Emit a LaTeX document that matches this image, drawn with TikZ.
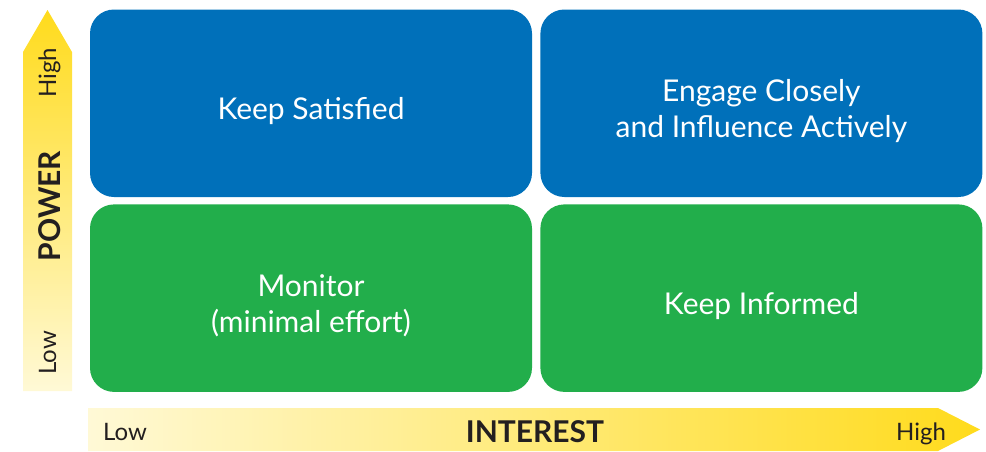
\documentclass[tikz,border=0pt]{standalone}
\usepackage{fontspec}
\setmainfont{Lato}
\usetikzlibrary{positioning}
\definecolor{quadblue}{HTML}{0070BA}
\definecolor{quadgreen}{HTML}{22AE4B}
\definecolor{axisyellow}{HTML}{FFDB1C}
\definecolor{axispale}{HTML}{FFF9D6}
\definecolor{axisink}{HTML}{231F20}
\newcommand{\quadstrut}{\rule{0pt}{38pt}}

\begin{document}
\begin{tikzpicture}[%
x=1pt,
y=-1pt,
quad/.style={rectangle, rounded corners=24pt, minimum width=442pt, minimum height=187.5pt,
  inner sep=0pt, text=white, align=center, font=\fontsize{30}{36}\selectfont},
axislabel/.style={text=axisink, anchor=base, font=\fontsize{24}{24}\selectfont},
axistitle/.style={text=axisink, anchor=base, font=\bfseries\fontsize{30}{30}\selectfont}
]
\useasboundingbox (0,0) rectangle (986,451);

% axes
\shade[bottom color=axispale, top color=axisyellow] (23,391) -- (23,52) -- (47.5,10) -- (72,52) -- (72,391) -- cycle;
\shade[left color=axispale, right color=axisyellow] (88,408) -- (938,408) -- (980,429.5) -- (938,451) -- (88,451) -- cycle;

% quadrants
\node[quad, fill=quadblue] (satisfied) at (311,103.25) {\quadstrut Keep Satisfied};
\node[quad, fill=quadblue, right=8pt of satisfied] (engage) {\quadstrut Engage Closely\\and Influence Actively};
\node[quad, fill=quadgreen, below=7pt of satisfied] (monitor) {\quadstrut Monitor\\(minimal effort)};
\node[quad, fill=quadgreen, right=8pt of monitor] (informed) {\quadstrut Keep Informed};

% axis labels
\node[axislabel, rotate=90] (powerhigh) at (56,73) {High};
\node[axistitle, rotate=90] (power) at (60,206) {POWER};
\node[axislabel, rotate=90] (powerlow) at (56,353) {Low};
\node[axislabel] (interestlow) at (125,440) {Low};
\node[axistitle] (interest) at (535,442.5) {INTEREST};
\node[axislabel] (interesthigh) at (921,440) {High};
\end{tikzpicture}
\end{document}
